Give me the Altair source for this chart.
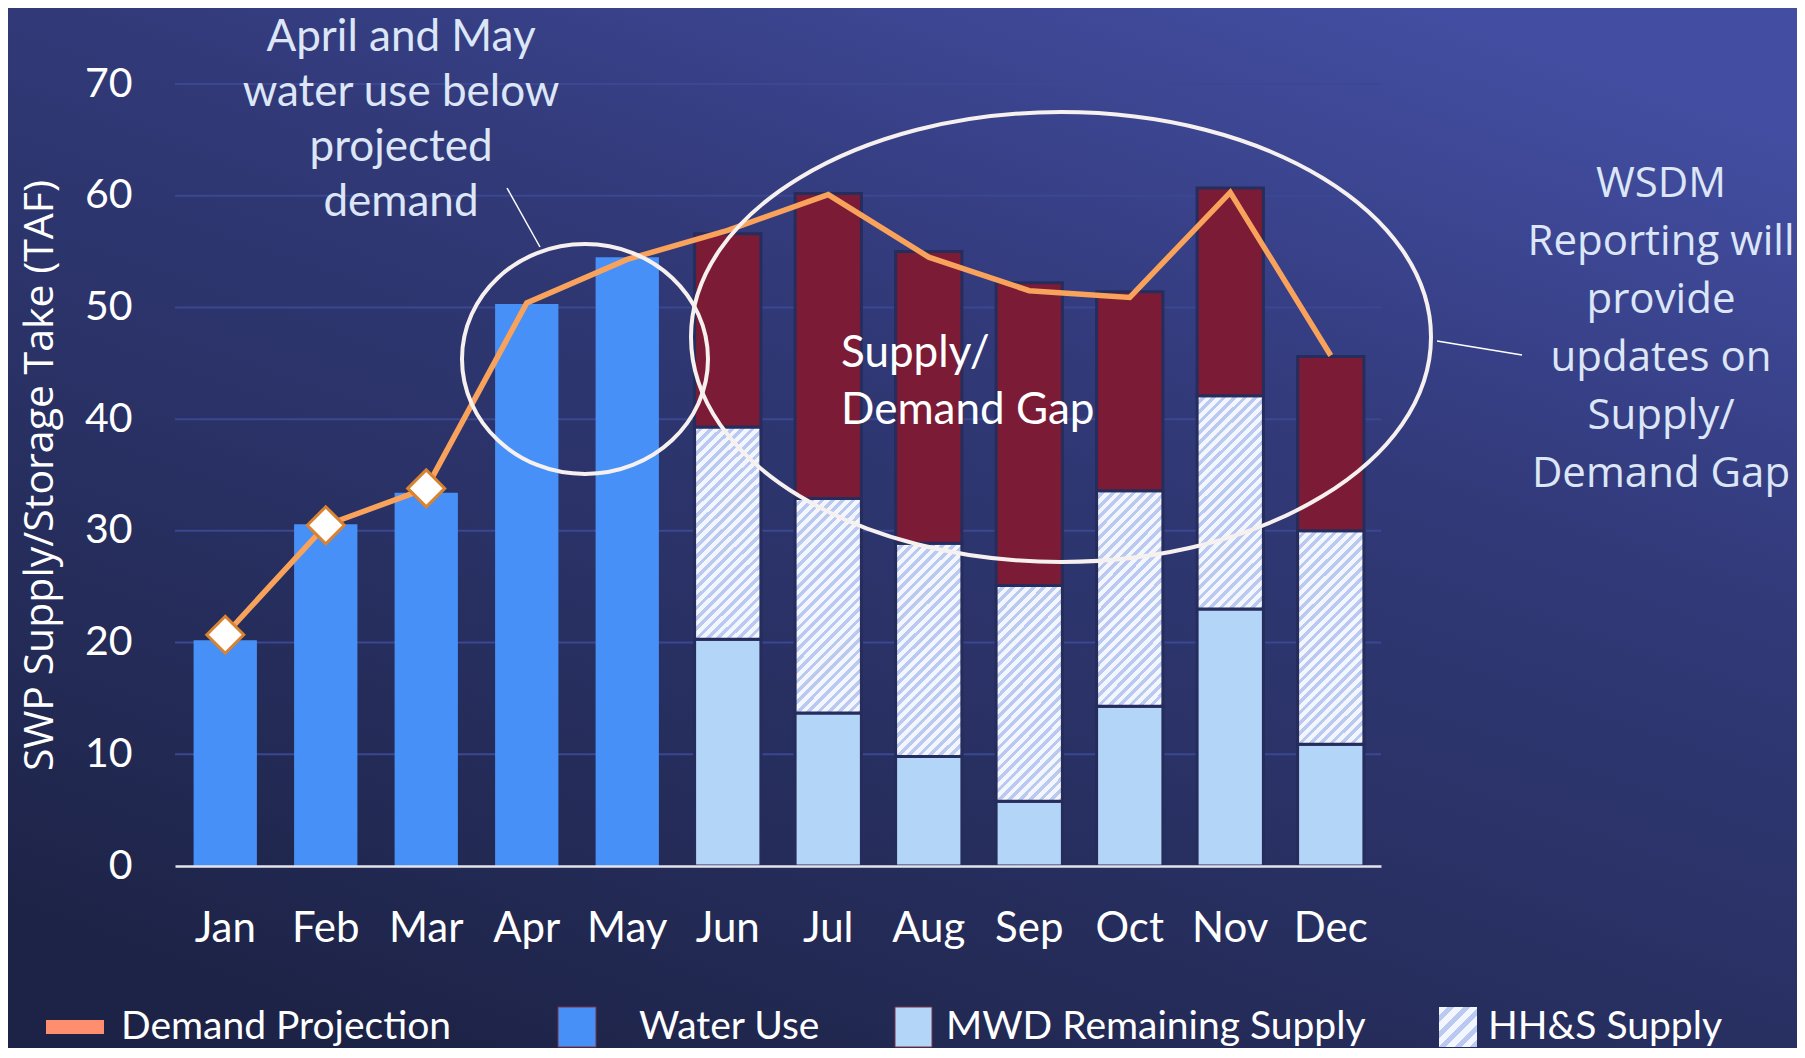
import altair as alt
import pandas as pd

# ---------------- data ----------------
months = ["Jan", "Feb", "Mar", "Apr", "May", "Jun", "Jul", "Aug", "Sep", "Oct", "Nov", "Dec"]
demand_projection = [20.7, 30.5, 33.8, 50.4, 54.3, 56.9, 60.1, 54.5, 51.5, 50.9, 60.3, 45.7]
marker_months = ["Jan", "Feb", "Mar"]

water_use_months = ["Jan", "Feb", "Mar", "Apr", "May"]
water_use = [20.2, 30.6, 33.4, 50.3, 54.5]

supply_months = ["Jun", "Jul", "Aug", "Sep", "Oct", "Nov", "Dec"]
mwd_remaining = [20.3, 13.7, 9.8, 5.8, 14.3, 23.0, 10.9]
hhs_supply = [19.0, 19.2, 19.1, 19.3, 19.3, 19.1, 19.1]
supply_gap = [17.3, 27.3, 26.1, 27.1, 17.8, 18.6, 15.6]

y_ticks = [0, 10, 20, 30, 40, 50, 60, 70]
y_title = "SWP Supply/Storage Take (TAF)"
legend_labels = ["Demand Projection", "Water Use", "MWD Remaining Supply", "HH&S Supply"]
note_april = ["April and May", "water use below", "projected", "demand"]
note_gap = ["Supply/", "Demand Gap"]
note_wsdm = ["WSDM", "Reporting will", "provide", "updates on", "Supply/", "Demand Gap"]

# ---------------- tables ----------------
demand_df = pd.DataFrame({"month": months, "value": demand_projection})
marker_df = demand_df[demand_df["month"].isin(marker_months)]
water_df = pd.DataFrame({"month": water_use_months, "value": water_use})
mwd_hi = [a for a in mwd_remaining]
hhs_hi = [a + b for a, b in zip(mwd_remaining, hhs_supply)]
gap_hi = [a + b for a, b in zip(hhs_hi, supply_gap)]
mwd_df = pd.DataFrame({"month": supply_months, "lo": [0.0] * 7, "hi": mwd_hi})
hhs_df = pd.DataFrame({"month": supply_months, "lo": mwd_hi, "hi": hhs_hi})
gap_df = pd.DataFrame({"month": supply_months, "lo": hhs_hi, "hi": gap_hi})
grid_df = pd.DataFrame({"value": y_ticks[1:]})
one = alt.Data(values=[{"k": 0}])

W, H = 1206, 782
PAD = {"left": 167, "top": 76, "right": 416, "bottom": 182}

# ---------------- encodings ----------------
x_enc = alt.X(
    "month:N",
    sort=months,
    scale=alt.Scale(domain=months, paddingInner=0.37, paddingOuter=0.185),
    axis=alt.Axis(
        title=None, labelFont="Lato", labelFontSize=42, labelColor="white",
        labelPadding=42, ticks=False, tickSize=0, domainColor="#E4E4EC",
        domainWidth=2.5, grid=False, labelAngle=0, zindex=1,
    ),
)


def y_enc(field):
    return alt.Y(
        field + ":Q",
        title=y_title,
        scale=alt.Scale(domain=[0, 70], nice=False, zero=True),
        axis=alt.Axis(
            values=y_ticks, grid=False, domain=False, ticks=False, tickSize=0,
            labelPadding=43, labelFont="Lato", labelFontSize=41, labelColor="white",
            titleFont="Open Sans", titleFontSize=41, titleFontWeight="normal",
            titleColor="white", titleX=-135, titleY=391, titleAngle=270,
            titleAlign="center", titleBaseline="middle", zindex=1,
        ),
    )


def stripes(n, white="#F3F6FE", blue="#BAC9F0", frac=0.55):
    stops = []
    for k in range(n):
        a = round(k / n, 5)
        b = round((k + frac) / n, 5)
        c = round((k + 1) / n, 5)
        stops += [
            alt.GradientStop(offset=a, color=white),
            alt.GradientStop(offset=b, color=white),
            alt.GradientStop(offset=b, color=blue),
            alt.GradientStop(offset=c, color=blue),
        ]
    return stops


hatch_bar = alt.LinearGradient(gradient="linear", stops=stripes(27), x1=0, y1=0, x2=0.37, y2=1.195)
hatch_key = alt.LinearGradient(gradient="linear", stops=stripes(5), x1=0, y1=0, x2=0.975, y2=1.024)

bg_grad = alt.LinearGradient(
    gradient="linear",
    stops=[
        alt.GradientStop(offset=0, color="#1D2346"),
        alt.GradientStop(offset=0.35, color="#283062"),
        alt.GradientStop(offset=0.65, color="#313978"),
        alt.GradientStop(offset=1, color="#434EA2"),
    ],
    x1=0.2, y1=1, x2=0.8, y2=0,
)

# ---------------- layers ----------------
background = alt.Chart(one).mark_rect(fill=bg_grad).encode(
    x=alt.value(-PAD["left"]), x2=alt.value(W + PAD["right"]),
    y=alt.value(-PAD["top"]), y2=alt.value(H + PAD["bottom"]),
)

grid = alt.Chart(grid_df).mark_rule(color="#3B4791", strokeWidth=2).encode(
    y=y_enc("value"), x=alt.value(0), x2=alt.value(W)
)

water = alt.Chart(water_df).mark_bar(color="#4690F7").encode(x=x_enc, y=y_enc("value"))

seg_stroke = dict(stroke="#262D5C", strokeWidth=3, width=alt.RelativeBandSize(band=1.047))
mwd = alt.Chart(mwd_df).mark_bar(fill="#B3D5F7", **seg_stroke).encode(
    x=x_enc, y=y_enc("lo"), y2="hi:Q"
)
hhs = alt.Chart(hhs_df).mark_bar(fill=hatch_bar, **seg_stroke).encode(
    x=x_enc, y=y_enc("lo"), y2="hi:Q"
)
gap = alt.Chart(gap_df).mark_bar(fill="#7C1B36", **seg_stroke).encode(
    x=x_enc, y=y_enc("lo"), y2="hi:Q"
)

line = alt.Chart(demand_df).mark_line(color="#F8A25C", strokeWidth=5.5).encode(
    x=x_enc, y=y_enc("value")
)
markers = alt.Chart(marker_df).mark_point(
    shape="diamond", size=1369, filled=True, fill="white", stroke="#D9822F",
    strokeWidth=3, opacity=1,
).encode(x=x_enc, y=y_enc("value"))

ellipse_small = alt.Chart(one).mark_point(
    shape="M -1 0 A 1 0.935 0 1 0 1 0 A 1 0.935 0 1 0 -1 0 Z",
    size=246 * 246, filled=False, stroke="#F6F0EE", strokeWidth=4, opacity=1,
).encode(x=alt.value(410), y=alt.value(275))
ellipse_big = alt.Chart(one).mark_point(
    shape="M -1 0 A 1 0.608 0 1 0 1 0 A 1 0.608 0 1 0 -1 0 Z",
    size=740 * 740, filled=False, stroke="#F6F0EE", strokeWidth=4, opacity=1,
).encode(x=alt.value(886), y=alt.value(253))

leader1 = alt.Chart(one).mark_rule(color="white", strokeWidth=1.5).encode(
    x=alt.value(332), y=alt.value(104), x2=alt.value(365), y2=alt.value(163)
)
leader2 = alt.Chart(one).mark_rule(color="white", strokeWidth=1.5).encode(
    x=alt.value(1262), y=alt.value(257), x2=alt.value(1347), y2=alt.value(271)
)

# multi-line text: y is the first line's centre
txt_april = alt.Chart(one).mark_text(
    text=note_april, font="Lato", fontSize=44, lineHeight=55, color="#DCE6F7",
    align="center", baseline="middle",
).encode(x=alt.value(226), y=alt.value(-46))
txt_gap = alt.Chart(one).mark_text(
    text=note_gap, font="Lato", fontSize=44, lineHeight=57, color="white",
    align="left", baseline="middle",
).encode(x=alt.value(666), y=alt.value(270))
txt_wsdm = alt.Chart(one).mark_text(
    text=note_wsdm, font="Open Sans", fontSize=42, lineHeight=58, color="#DCE6F7",
    align="center", baseline="middle",
).encode(x=alt.value(1486), y=alt.value(100))

# ---------------- legend ----------------
LY = 943
key_demand = alt.Chart(one).mark_rect(color="#FF8E6E").encode(
    x=alt.value(-129), x2=alt.value(-71), y=alt.value(936), y2=alt.value(950)
)
key_water = alt.Chart(one).mark_rect(color="#4690F7", stroke="#7A3548", strokeWidth=1).encode(
    x=alt.value(383), x2=alt.value(421), y=alt.value(923), y2=alt.value(963)
)
key_mwd = alt.Chart(one).mark_rect(color="#B3D5F7", stroke="#7A3548", strokeWidth=1).encode(
    x=alt.value(720), x2=alt.value(757), y=alt.value(923), y2=alt.value(963)
)
key_hhs = alt.Chart(one).mark_rect(fill=hatch_key).encode(
    x=alt.value(1264), x2=alt.value(1302), y=alt.value(923), y2=alt.value(963)
)
legend_x = [-54, 464, 771, 1313]
legend_texts = [
    alt.Chart(one).mark_text(
        text=lab, font="Lato", fontSize=39, color="white", align="left", baseline="middle"
    ).encode(x=alt.value(lx), y=alt.value(LY))
    for lab, lx in zip(legend_labels, legend_x)
]

chart = alt.layer(
    background, grid, water, mwd, hhs, gap, line, markers,
    ellipse_small, ellipse_big, leader1, leader2,
    txt_april, txt_gap, txt_wsdm,
    key_demand, key_water, key_mwd, key_hhs, *legend_texts,
).properties(
    width=W, height=H,
    autosize=alt.AutoSizeParams(type="none"),
    padding=PAD,
    background="#2A3163",
).configure_view(stroke=None)

chart.save("out.html", embed_options={"renderer": "svg", "actions": False})
